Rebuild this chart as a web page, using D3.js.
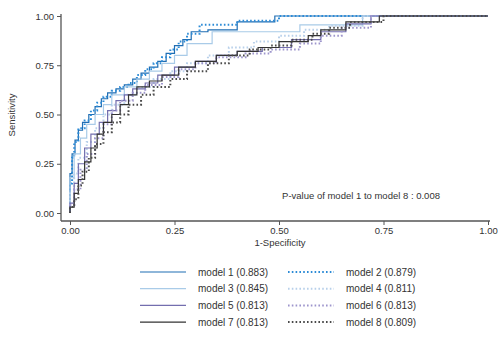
<!DOCTYPE html>
<html>
<head>
<meta charset="utf-8">
<script src="https://cdn.jsdelivr.net/npm/d3@7"></script>
<style>
  body { margin: 0; background: #fff; }
  text { font-family: "Liberation Sans", Arial, sans-serif; fill: #333; }
</style>
</head>
<body>
<div id="chart"></div>
<script>
// ROC step curves (1-specificity, sensitivity)
const models = ["model 1", "model 2", "model 3", "model 4", "model 5", "model 6", "model 7", "model 8"]
const aucs = ["0.883", "0.879", "0.845", "0.811", "0.813", "0.813", "0.813", "0.809"]
const colors = ["#1f6eb4", "#2c8bd6", "#a9cbe8", "#b8d0ea", "#736eae", "#9d95cc", "#333333", "#4a4a4a"]
const dotted = [false, true, false, true, false, true, false, true]

const fpr1 = [0, 0, 0.005, 0.012, 0.02, 0.03, 0.045, 0.06, 0.075, 0.09, 0.11, 0.13, 0.15, 0.17, 0.19, 0.21, 0.23, 0.25, 0.27, 0.29, 0.33, 0.40, 0.49, 1]
const tpr1 = [0, 0.2, 0.3, 0.37, 0.42, 0.46, 0.50, 0.54, 0.58, 0.61, 0.63, 0.65, 0.68, 0.71, 0.74, 0.77, 0.81, 0.85, 0.88, 0.92, 0.93, 0.97, 1, 1]
const fpr2 = [0, 0, 0.005, 0.01, 0.02, 0.035, 0.05, 0.065, 0.08, 0.1, 0.12, 0.14, 0.16, 0.18, 0.2, 0.22, 0.24, 0.26, 0.28, 0.31, 0.40, 0.5, 1]
const tpr2 = [0, 0.15, 0.28, 0.36, 0.43, 0.47, 0.52, 0.56, 0.59, 0.62, 0.64, 0.66, 0.7, 0.73, 0.76, 0.79, 0.83, 0.87, 0.91, 0.955, 0.976, 1, 1]
const fpr3 = [0, 0, 0.01, 0.025, 0.04, 0.06, 0.08, 0.1, 0.13, 0.16, 0.19, 0.22, 0.25, 0.28, 0.34, 0.55, 0.70, 1]
const tpr3 = [0, 0.18, 0.3, 0.38, 0.45, 0.5, 0.55, 0.6, 0.64, 0.68, 0.72, 0.76, 0.8, 0.86, 0.92, 0.955, 1, 1]
const fpr4 = [0, 0, 0.01, 0.02, 0.04, 0.06, 0.08, 0.1, 0.13, 0.16, 0.2, 0.24, 0.28, 0.33, 0.38, 0.44, 0.5, 0.56, 0.62, 0.7, 1]
const tpr4 = [0, 0.1, 0.2, 0.28, 0.36, 0.43, 0.5, 0.55, 0.6, 0.64, 0.68, 0.72, 0.76, 0.8, 0.84, 0.87, 0.9, 0.93, 0.95, 1, 1]
const fpr5 = [0, 0, 0.01, 0.02, 0.035, 0.05, 0.07, 0.09, 0.11, 0.13, 0.15, 0.18, 0.21, 0.25, 0.3, 0.35, 0.4, 0.46, 0.53, 0.6, 0.66, 0.72, 1]
const tpr5 = [0, 0.05, 0.15, 0.25, 0.33, 0.4, 0.46, 0.52, 0.57, 0.6, 0.63, 0.66, 0.7, 0.74, 0.77, 0.8, 0.82, 0.84, 0.88, 0.92, 0.96, 1, 1]
const fpr6 = [0, 0, 0.01, 0.025, 0.04, 0.06, 0.08, 0.1, 0.12, 0.15, 0.18, 0.22, 0.26, 0.3, 0.35, 0.42, 0.48, 0.55, 0.6, 0.65, 0.72, 1]
const tpr6 = [0, 0.04, 0.12, 0.22, 0.3, 0.38, 0.45, 0.52, 0.57, 0.61, 0.65, 0.69, 0.73, 0.76, 0.79, 0.81, 0.83, 0.86, 0.9, 0.94, 1, 1]
const fpr7 = [0, 0, 0.01, 0.02, 0.035, 0.05, 0.065, 0.08, 0.1, 0.12, 0.14, 0.16, 0.19, 0.22, 0.26, 0.3, 0.35, 0.4, 0.45, 0.5, 0.57, 0.6, 0.66, 0.74, 1]
const tpr7 = [0, 0.03, 0.1, 0.17, 0.26, 0.33, 0.4, 0.46, 0.5, 0.55, 0.6, 0.64, 0.67, 0.7, 0.74, 0.77, 0.8, 0.82, 0.84, 0.87, 0.9, 0.93, 0.97, 1, 1]
const fpr8 = [0, 0, 0.01, 0.02, 0.03, 0.045, 0.06, 0.08, 0.1, 0.12, 0.14, 0.17, 0.2, 0.24, 0.28, 0.33, 0.38, 0.43, 0.48, 0.53, 0.58, 0.62, 0.67, 0.75, 1]
const tpr8 = [0, 0.03, 0.07, 0.14, 0.21, 0.28, 0.35, 0.41, 0.46, 0.5, 0.55, 0.6, 0.64, 0.68, 0.72, 0.76, 0.8, 0.83, 0.85, 0.88, 0.91, 0.94, 0.97, 1, 1]

const ticks = [0, 0.25, 0.5, 0.75, 1]
const pText = "P-value of model 1 to model 8 : 0.008"

const fprs = [fpr1, fpr2, fpr3, fpr4, fpr5, fpr6, fpr7, fpr8]
const tprs = [tpr1, tpr2, tpr3, tpr4, tpr5, tpr6, tpr7, tpr8]

const width = 501, height = 340

const svg = d3.select("#chart")
  .append("svg")
    .attr("width", width)
    .attr("height", height)

const x = d3.scaleLinear().domain([0, 1]).range([70, 488])
const y = d3.scaleLinear().domain([0, 1]).range([213, 16])

// axes are offset from the plot region (Stata style)
const xAxis = svg.append("g")
  .attr("transform", "translate(0,221)")
  .call(d3.axisBottom(x).tickValues(ticks).tickFormat(d3.format(".2f")).tickSize(4).tickPadding(2))
xAxis.select(".domain").attr("d", "M61,0H490")

const yAxis = svg.append("g")
  .attr("transform", "translate(61,0)")
  .call(d3.axisLeft(y).tickValues(ticks).tickFormat(d3.format(".2f")).tickSize(4).tickPadding(3))
yAxis.select(".domain").attr("d", "M0,14V221")

svg.selectAll(".domain").attr("stroke", "#555").attr("stroke-width", 1.3)
svg.selectAll(".tick line").attr("stroke", "#555")
svg.selectAll(".tick text").attr("font-size", 9.5).attr("fill", "#333")
  .attr("font-family", "Liberation Sans, Arial, sans-serif")

svg.append("text")
  .attr("transform", "translate(15,115) rotate(-90)")
  .attr("text-anchor", "middle")
  .attr("font-size", 9.5)
  .text("Sensitivity")

svg.append("text")
  .attr("x", 280).attr("y", 246)
  .attr("text-anchor", "middle")
  .attr("font-size", 9.5)
  .text("1-Specificity")

svg.append("text")
  .attr("x", 361).attr("y", 199)
  .attr("text-anchor", "middle")
  .attr("font-size", 9.5)
  .text(pText)

const line = d3.line()
  .x(d => x(d[0]))
  .y(d => y(d[1]))
  .curve(d3.curveStepAfter)

const curves = svg.append("g")
models.forEach((m, i) => {
  const pts = fprs[i].map((f, j) => [f, tprs[i][j]])
  curves.append("path")
    .attr("d", line(pts))
    .attr("fill", "none")
    .attr("stroke", colors[i])
    .attr("stroke-width", dotted[i] ? 2 : 1.2)
    .attr("stroke-dasharray", dotted[i] ? "1.6,2.2" : null)
})

// legend: two columns, four rows
const legend = svg.append("g")
models.forEach((m, i) => {
  const col = i % 2, row = Math.floor(i / 2)
  const lx = col === 0 ? 140 : 288
  const ly = 272 + row * 16.7
  legend.append("line")
    .attr("x1", lx).attr("x2", lx + 46)
    .attr("y1", ly).attr("y2", ly)
    .attr("stroke", colors[i])
    .attr("stroke-width", dotted[i] ? 2 : 1.2)
    .attr("stroke-dasharray", dotted[i] ? "1.6,2.2" : null)
  legend.append("text")
    .attr("x", lx + 58).attr("y", ly + 3.5)
    .attr("font-size", 10)
    .text(`${m} (${aucs[i]})`)
})
</script>
</body>
</html>
